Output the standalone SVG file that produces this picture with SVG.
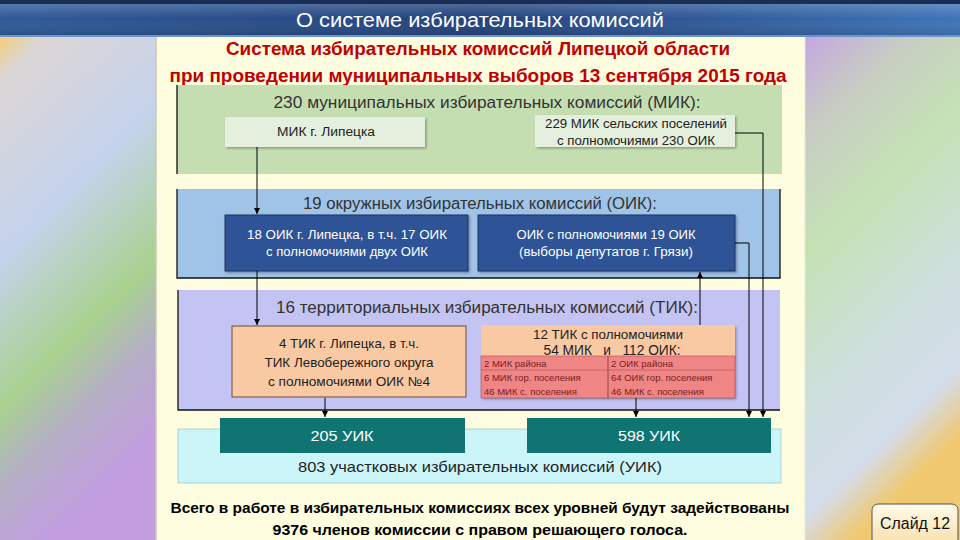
<svg xmlns="http://www.w3.org/2000/svg" width="960" height="540" viewBox="0 0 960 540">
<defs>
<linearGradient id="lside" x1="0" y1="0" x2="0.3" y2="1">
<stop offset="0" stop-color="#F2CF7A"/>
<stop offset="0.08" stop-color="#DCD6D6"/>
<stop offset="0.4" stop-color="#C4D3EC"/>
<stop offset="0.68" stop-color="#A9D190"/>
<stop offset="0.82" stop-color="#B4B0C4"/>
<stop offset="1" stop-color="#C29EE0"/>
</linearGradient>
<linearGradient id="rside" x1="0" y1="0" x2="0.3" y2="1">
<stop offset="0" stop-color="#C4A6E0"/>
<stop offset="0.18" stop-color="#C8CCC4"/>
<stop offset="0.4" stop-color="#C4E2B4"/>
<stop offset="0.7" stop-color="#CFDFE0"/>
<stop offset="0.88" stop-color="#D4DCEA"/>
<stop offset="1" stop-color="#F0C870"/>
</linearGradient>
<linearGradient id="bar" x1="0" y1="0" x2="1" y2="0">
<stop offset="0" stop-color="#2F5A98"/>
<stop offset="0.5" stop-color="#22427C"/>
<stop offset="1" stop-color="#3F74B8"/>
</linearGradient>
<linearGradient id="barv" x1="0" y1="0" x2="0" y2="1">
<stop offset="0" stop-color="#FFFFFF" stop-opacity="0.25"/>
<stop offset="0.5" stop-color="#FFFFFF" stop-opacity="0"/>
<stop offset="1" stop-color="#000000" stop-opacity="0.15"/>
</linearGradient>
<linearGradient id="slide" x1="0" y1="0" x2="0" y2="1">
<stop offset="0" stop-color="#FFFBEA"/>
<stop offset="1" stop-color="#F7DFA8"/>
</linearGradient>
<marker id="arr" viewBox="0 0 8 8" refX="8" refY="4" markerWidth="6" markerHeight="6" orient="auto" markerUnits="userSpaceOnUse">
<path d="M0,0 L8,4 L0,8 z" fill="#000"/>
</marker>
<filter id="sh" x="-5%" y="-10%" width="115%" height="130%">
<feDropShadow dx="1.5" dy="1.5" stdDeviation="1" flood-color="#000" flood-opacity="0.3"/>
</filter>
</defs>
<style>
.t{font-family:"Liberation Sans","Noto Sans",Arial,sans-serif}
.red{fill:#C00000;font-weight:bold;font-size:19px}
.hd{fill:#333333;font-size:16px}
.sm{fill:#222;font-size:12px}
.wh{fill:#FFFFFF;font-size:12px}
.tb{fill:#7A2020;font-size:9.5px}
.bt{fill:#000;font-weight:bold;font-size:14px}
.conn{stroke:#000;stroke-width:1;fill:none}
.edge{stroke:#111;stroke-width:1.3;fill:none}
</style>

<!-- background -->
<rect x="0" y="0" width="960" height="540" fill="#FFFDE0"/>
<rect x="0" y="37" width="156" height="503" fill="url(#lside)"/>
<rect x="805" y="37" width="155" height="503" fill="url(#rside)"/>
<rect x="156" y="37" width="649" height="503" fill="#FFFDE0"/>
<line x1="156" y1="37" x2="156" y2="540" stroke="#C8C8B8" stroke-width="1.5"/>
<line x1="805" y1="37" x2="805" y2="540" stroke="#E8E6D0" stroke-width="1"/>

<!-- title bar -->
<rect x="0" y="0" width="960" height="37" fill="url(#bar)"/>
<rect x="0" y="0" width="960" height="37" fill="url(#barv)"/>
<rect x="0" y="0" width="960" height="4" fill="#1A2E55"/>
<rect x="0" y="35" width="960" height="2" fill="#6B95CF"/>
<text class="t" x="480" y="27" text-anchor="middle" fill="#FFFFFF" font-size="20" textLength="368" lengthAdjust="spacingAndGlyphs">О системе избирательных комиссий</text>

<text class="t red" x="478" y="55" text-anchor="middle" textLength="504" lengthAdjust="spacingAndGlyphs">Система избирательных комиссий Липецкой области</text>
<text class="t red" x="478" y="82" text-anchor="middle" textLength="617" lengthAdjust="spacingAndGlyphs">при проведении муниципальных выборов 13 сентября 2015 года</text>

<!-- MIK level -->
<g id="panel-mik">
<rect x="177" y="85" width="605" height="89" fill="#C4DEB1"/>
<path class="edge" d="M177,85 V174"/>
<text class="t hd" x="487" y="108" text-anchor="middle" textLength="427" lengthAdjust="spacingAndGlyphs">230 муниципальных избирательных комиссий (МИК):</text>
</g>
<g id="mik-lipetsk">
<rect x="225" y="117" width="200" height="30" fill="#E4EFDD" filter="url(#sh)"/>
<text class="t sm" x="326" y="136" text-anchor="middle" textLength="98" lengthAdjust="spacingAndGlyphs">МИК г. Липецка</text>
</g>
<g id="mik-rural">
<rect x="535" y="115" width="200" height="32" fill="#E4EFDD" filter="url(#sh)"/>
<text class="t sm" x="636" y="128" text-anchor="middle" textLength="182" lengthAdjust="spacingAndGlyphs">229 МИК сельских поселений</text>
<text class="t sm" x="636" y="145" text-anchor="middle" textLength="158" lengthAdjust="spacingAndGlyphs">с полномочиями 230 ОИК</text>
</g>

<!-- OIK level -->
<g id="panel-oik">
<rect x="177" y="189" width="603" height="89" fill="#A0C3E8"/>
<path class="edge" d="M177,189 V278 H780 V189"/>
<text class="t hd" x="480" y="209" text-anchor="middle" textLength="354" lengthAdjust="spacingAndGlyphs">19 окружных избирательных комиссий (ОИК):</text>
</g>
<g id="oik-lipetsk">
<rect x="225" y="215" width="243" height="56" fill="#2E5396" stroke="#1E3560" stroke-width="1" filter="url(#sh)"/>
<text class="t wh" x="347" y="239" text-anchor="middle" textLength="200" lengthAdjust="spacingAndGlyphs">18 ОИК г. Липецка, в т.ч. 17 ОИК</text>
<text class="t wh" x="347" y="256" text-anchor="middle" textLength="162" lengthAdjust="spacingAndGlyphs">с полномочиями двух ОИК</text>
</g>
<g id="oik-gryazi">
<rect x="478" y="215" width="257" height="56" fill="#2E5396" stroke="#1E3560" stroke-width="1" filter="url(#sh)"/>
<text class="t wh" x="606" y="239" text-anchor="middle" textLength="179" lengthAdjust="spacingAndGlyphs">ОИК с полномочиями 19 ОИК</text>
<text class="t wh" x="606" y="256" text-anchor="middle" textLength="174" lengthAdjust="spacingAndGlyphs">(выборы депутатов г. Грязи)</text>
</g>

<!-- TIK level -->
<g id="panel-tik">
<rect x="178" y="290" width="602" height="120" fill="#C4C4F4"/>
<path class="edge" d="M178,290 V410 H780"/>
<text class="t hd" x="487" y="313" text-anchor="middle" textLength="422" lengthAdjust="spacingAndGlyphs">16 территориальных избирательных комиссий (ТИК):</text>
</g>
<g id="tik-lipetsk">
<rect x="232" y="326" width="234" height="71" fill="#F9C9A4" stroke="#6A4A3A" stroke-width="1"/>
<text class="t" x="349" y="348" text-anchor="middle" fill="#222" font-size="13" textLength="140" lengthAdjust="spacingAndGlyphs">4 ТИК г. Липецка, в т.ч.</text>
<text class="t" x="349" y="367" text-anchor="middle" fill="#222" font-size="13" textLength="169" lengthAdjust="spacingAndGlyphs">ТИК Левобережного округа</text>
<text class="t" x="349" y="386" text-anchor="middle" fill="#222" font-size="13" textLength="162" lengthAdjust="spacingAndGlyphs">с полномочиями ОИК №4</text>
</g>
<g id="tik-12">
<rect x="481" y="325" width="254" height="73" fill="#F9C9A4" filter="url(#sh)"/>
<text class="t" x="608" y="339" text-anchor="middle" fill="#222" font-size="13" textLength="150" lengthAdjust="spacingAndGlyphs">12 ТИК с полномочиями</text>
<text class="t" x="612" y="355" text-anchor="middle" fill="#222" font-size="14" textLength="137" lengthAdjust="spacingAndGlyphs" xml:space="preserve">54 МИК   и   112 ОИК:</text>
<rect x="481" y="356" width="254" height="42" fill="#EF8585" stroke="#B05050" stroke-width="0.6"/>
<line x1="608" y1="356" x2="608" y2="398" stroke="#8A3030" stroke-width="0.8"/>
<line x1="481" y1="370" x2="735" y2="370" stroke="#B05050" stroke-width="0.6"/>
<line x1="481" y1="384" x2="735" y2="384" stroke="#E88080" stroke-width="0.4"/>
<text class="t tb" x="484" y="367">2 МИК района</text>
<text class="t tb" x="484" y="381">6 МИК гор. поселения</text>
<text class="t tb" x="484" y="395">46 МИК с. поселения</text>
<text class="t tb" x="611" y="367">2 ОИК района</text>
<text class="t tb" x="611" y="381">64 ОИК гор. поселения</text>
<text class="t tb" x="611" y="395">46 МИК с. поселения</text>
</g>

<!-- UIK level -->
<g id="panel-uik">
<rect x="178" y="429" width="603" height="54" fill="#CCF5FA" stroke="#9CC8D0" stroke-width="0.8"/>
<text class="t" x="480" y="472" text-anchor="middle" fill="#222" font-size="15" textLength="364" lengthAdjust="spacingAndGlyphs">803 участковых избирательных комиссий (УИК)</text>
</g>
<g id="uik-205">
<rect x="220" y="418" width="245" height="35" fill="#107472"/>
<text class="t" x="342" y="441" text-anchor="middle" fill="#FFFFFF" font-size="14" textLength="63" lengthAdjust="spacingAndGlyphs">205 УИК</text>
</g>
<g id="uik-598">
<rect x="527" y="418" width="244" height="35" fill="#107472"/>
<text class="t" x="649" y="441" text-anchor="middle" fill="#FFFFFF" font-size="14" textLength="62" lengthAdjust="spacingAndGlyphs">598 УИК</text>
</g>

<!-- connectors -->
<g id="connectors">
<path class="conn" d="M257,147 V214" marker-end="url(#arr)"/>
<path class="conn" d="M257,271 V325" marker-end="url(#arr)"/>
<path class="conn" d="M325,398 V417" marker-end="url(#arr)"/>
<path class="conn" d="M636,398 V417" marker-end="url(#arr)"/>
<path class="conn" d="M735,133 H763 V417" marker-end="url(#arr)"/>
<path class="conn" d="M735,243 H749 V417" marker-end="url(#arr)"/>
<path class="conn" d="M700,325 V272" marker-end="url(#arr)"/>
</g>

<!-- footer -->
<text class="t bt" x="480" y="513" text-anchor="middle" textLength="619" lengthAdjust="spacingAndGlyphs">Всего в работе в избирательных комиссиях всех уровней будут задействованы</text>
<text class="t bt" x="480" y="535" text-anchor="middle" textLength="415" lengthAdjust="spacingAndGlyphs">9376 членов комиссии с правом решающего голоса.</text>

<g id="slide-num">
<rect x="872" y="504" width="86" height="42" rx="6" fill="url(#slide)" stroke="#555" stroke-width="1"/>
<text class="t" x="915" y="529" text-anchor="middle" fill="#111" font-size="16" textLength="70" lengthAdjust="spacingAndGlyphs">Слайд 12</text>
</g>
</svg>
